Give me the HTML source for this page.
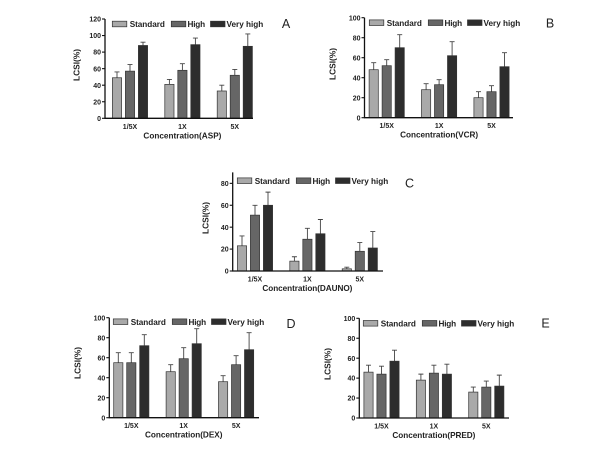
<!DOCTYPE html>
<html>
<head>
<meta charset="utf-8">
<title>LCSI charts</title>
<style>
html,body{margin:0;padding:0;background:#fff;width:600px;height:450px;overflow:hidden}
svg{display:block;filter:blur(0.3px)}
text{font-family:"Liberation Sans",sans-serif;fill:#222}
</style>
</head>
<body>
<svg id="figure" width="600" height="450" viewBox="0 0 600 450" xmlns="http://www.w3.org/2000/svg"></svg>
<script>
const categories = ['1/5X', '1X', '5X'];
const seriesNames = ['Standard', 'High', 'Very high'];

const aStandard = [49, 41, 33];
const aHigh = [57, 58, 52];
const aVeryHigh = [88, 89, 87];
const aStandardErr = [56, 47, 40];
const aHighErr = [65, 66, 59];
const aVeryHighErr = [92, 97, 102];
const aTicks = [0, 20, 40, 60, 80, 100, 120];

const bStandard = [48, 28, 20];
const bHigh = [52, 33, 26];
const bVeryHigh = [70, 62, 51];
const bStandardErr = [55, 34, 26];
const bHighErr = [58, 38, 32];
const bVeryHighErr = [83, 76, 65];
const bTicks = [0, 20, 40, 60, 80, 100];

const cStandard = [23, 9, 2];
const cHigh = [51, 29, 18];
const cVeryHigh = [60, 34, 21];
const cStandardErr = [32, 13, 3.5];
const cHighErr = [60, 39, 26];
const cVeryHighErr = [72, 47, 36];
const cTicks = [0, 20, 40, 60, 80];

const dStandard = [55, 46, 36];
const dHigh = [55, 59, 53];
const dVeryHigh = [72, 74, 68];
const dStandardErr = [65, 53, 42];
const dHighErr = [65, 70, 62];
const dVeryHighErr = [83, 89, 85];
const dTicks = [0, 20, 40, 60, 80, 100];

const eStandard = [46, 38, 26];
const eHigh = [44, 45, 31];
const eVeryHigh = [57, 44, 32];
const eStandardErr = [53, 44, 31];
const eHighErr = [52, 53, 37];
const eVeryHighErr = [68, 54, 43];
const eTicks = [0, 20, 40, 60, 80, 100];

const panels = [
  {id:'a', letter:'A', title:'Concentration(ASP)', titleW:78, axisX:105, y0:118.3, yTop:19, yMax:120, end:253, first:130, yTitleX:76.7, yTitleY:65, legX:112.3, legY:24, letX:286, letY:28,
   vals:[aStandard,aHigh,aVeryHigh], errs:[aStandardErr,aHighErr,aVeryHighErr], ticks:aTicks},
  {id:'b', letter:'B', title:'Concentration(VCR)', titleW:78, axisX:364.5, y0:117.7, yTop:17.7, yMax:100, end:513, first:386.7, yTitleX:332.7, yTitleY:64, legX:369.3, legY:22.7, letX:550, letY:27.7,
   vals:[bStandard,bHigh,bVeryHigh], errs:[bStandardErr,bHighErr,bVeryHighErr], ticks:bTicks},
  {id:'c', letter:'C', title:'Concentration(DAUNO)', titleW:90, axisX:232.7, y0:271, yTop:172.4, yMax:90, end:383, first:255, yTitleX:205.7, yTitleY:218, legX:237.3, legY:180.7, letX:409.5, letY:187.7,
   vals:[cStandard,cHigh,cVeryHigh], errs:[cStandardErr,cHighErr,cVeryHighErr], ticks:cTicks},
  {id:'d', letter:'D', title:'Concentration(DEX)', titleW:77.5, axisX:109.3, y0:417.7, yTop:317.7, yMax:100, end:259, first:131.3, yTitleX:77.7, yTitleY:363, legX:113.3, legY:321.7, letX:291, letY:328,
   vals:[dStandard,dHigh,dVeryHigh], errs:[dStandardErr,dHighErr,dVeryHighErr], ticks:dTicks},
  {id:'e', letter:'E', title:'Concentration(PRED)', titleW:83, axisX:359.3, y0:418, yTop:318.3, yMax:100, end:509, first:381.5, yTitleX:327.3, yTitleY:364, legX:363.3, legY:323.3, letX:545.5, letY:327.7,
   vals:[eStandard,eHigh,eVeryHigh], errs:[eStandardErr,eHighErr,eVeryHighErr], ticks:eTicks}
];

const fills = ['#a9a9a9', '#666666', '#2d2d2d'];
const NS = 'http://www.w3.org/2000/svg';
const GROUP_STEP = 52.4;
const BAR_STEP = 13;
const BAR_W = 9.2;
const root = document.getElementById('figure');

function mk(parent, tag, attrs, txt) {
  const el = document.createElementNS(NS, tag);
  for (const k in attrs) el.setAttribute(k, attrs[k]);
  if (txt !== undefined) el.textContent = txt;
  parent.appendChild(el);
  return el;
}
function label(parent, x, y, str, size, anchor, width) {
  const attrs = {x:x, y:y, 'font-size':size, 'font-weight':'bold', 'text-anchor':anchor};
  if (width) { attrs.textLength = width; attrs.lengthAdjust = 'spacing'; }
  return mk(parent, 'text', attrs, str);
}

panels.forEach(function (p) {
  const g = mk(root, 'g', {});
  
  
  const yScale = function (v) { return p.y0 - (v / p.yMax) * (p.y0 - p.yTop); };
  const xScale = function (c, s) { return p.first + c * GROUP_STEP + (s - 1) * BAR_STEP; };

  p.vals.forEach(function (series, s) {
    series.forEach(function (v, c) {
      const cx = xScale(c, s);
      const errEl = mk(g, 'path', {
        d: 'M' + cx + ' ' + yScale(v) + 'V' + yScale(p.errs[s][c]) + 'M' + (cx - 2.5) + ' ' + yScale(p.errs[s][c]) + 'H' + (cx + 2.5),
        stroke: '#444', 'stroke-width': 0.9, fill: 'none'
      });
      
      
      const bar = mk(g, 'rect', {
        x: cx - BAR_W / 2, y: yScale(v), width: BAR_W, height: p.y0 - yScale(v),
        fill: fills[s], stroke: '#333', 'stroke-width': 0.7
      });
      
      
    });
  });

  const axes = mk(g, 'path', {
    d: 'M' + p.axisX + ' ' + p.yTop + 'V' + p.y0 + 'H' + p.end,
    stroke: '#111', 'stroke-width': 1.3, fill: 'none'
  });
  
  

  p.ticks.forEach(function (t) {
    const y = yScale(t);
    const tick = mk(g, 'line', {x1: p.axisX - 3, x2: p.axisX, y1: y, y2: y, stroke: '#111', 'stroke-width': 1.1});
    
    
    const tl = label(g, p.axisX - 4, y + 2.6, String(t), 7, 'end');
    
    
  });

  categories.forEach(function (cat, c) {
    const cl = label(g, xScale(c, 1), p.y0 + 10.5, cat, 7, 'middle');
    
    
  });

  const xt = label(g, xScale(1, 1), p.y0 + 20, p.title, 8.2, 'middle', p.titleW);
  
  

  const yt = mk(g, 'text', {
    x: 0, y: 0, 'font-size': 8.4, 'font-weight': 'bold', 'text-anchor': 'middle',
    transform: 'translate(' + (p.yTitleX + 3) + ' ' + p.yTitleY + ') rotate(-90)'
  }, 'LCSI(%)');
  
  

  const swatchOffsets = [0, 59, 98.2];
  const textOffsets = [17.4, 75.2, 114.2];
  const textWidths = [35.2, 17.6, 36.8];
  seriesNames.forEach(function (name, s) {
    const sw = mk(g, 'rect', {
      x: p.legX + swatchOffsets[s], y: p.legY - 2.8, width: 14.5, height: 5.6,
      fill: fills[s], stroke: '#333', 'stroke-width': 0.7
    });
    
    
    const lt = label(g, p.legX + textOffsets[s], p.legY + 3.2, name, 8.2, 'start', textWidths[s]);
    
    
  });

  const let_ = mk(g, 'text', {x: p.letX, y: p.letY, 'font-size': 12.5, 'text-anchor': 'middle'}, p.letter);
  
  
});
</script>
</body>
</html>
